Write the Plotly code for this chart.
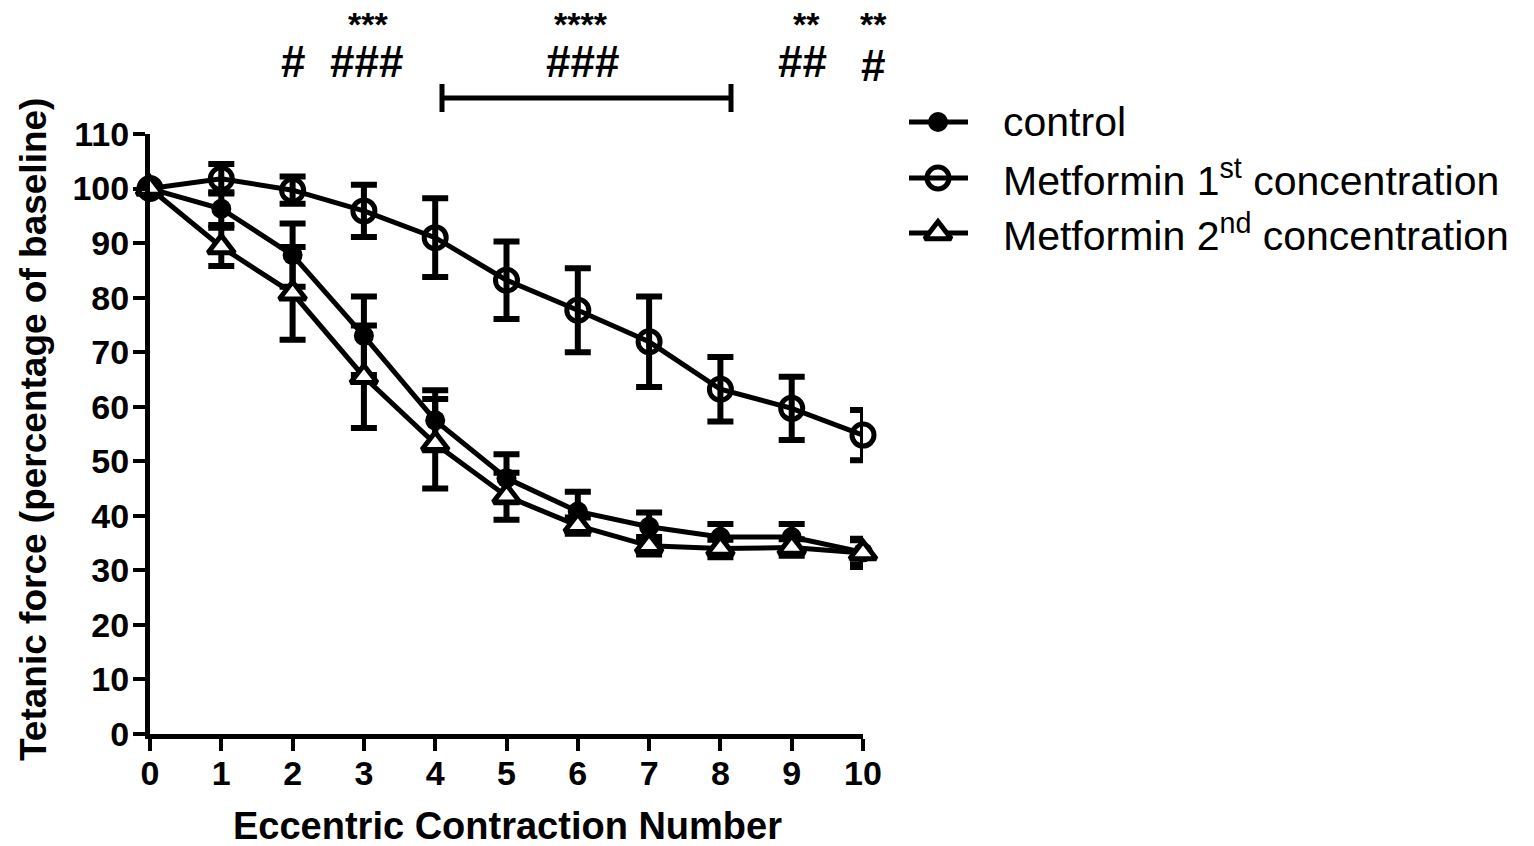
import plotly.graph_objects as go

# Eccentric contraction number
contraction = [0, 1, 2, 3, 4, 5, 6, 7, 8, 9, 10]

# Tetanic force, % of baseline (mean and SEM)
control = [100, 96.3, 87.8, 73.0, 57.5, 46.9, 40.8, 38.0, 36.1, 36.1, 33.3]
control_err = [0, 3.0, 5.8, 7.2, 5.5, 4.4, 3.6, 2.6, 2.4, 2.4, 2.2]

met_1st = [100, 101.8, 99.7, 95.9, 91.0, 83.2, 77.7, 71.9, 63.2, 59.7, 54.8]
met_1st_err = [0, 2.7, 2.5, 4.8, 7.2, 7.1, 7.7, 8.3, 5.9, 5.8, 4.6]

met_2nd = [100, 89.3, 80.8, 65.5, 53.2, 43.6, 38.2, 34.5, 34.0, 34.2, 33.2]
met_2nd_err = [0, 3.5, 8.5, 9.4, 8.2, 4.3, 1.5, 1.6, 1.6, 1.5, 2.6]

x_ticks = list(range(0, 11))
y_ticks = list(range(0, 111, 10))

series_names = ["control", "Metformin 1<sup>st</sup> concentration",
                "Metformin 2<sup>nd</sup> concentration"]

FONT = "Liberation Sans, Arial, sans-serif"
W, H = 1534, 846

# plot area in pixels
PX0, PX1 = 150, 863
PY_TOP, PY_BOT = 134, 734

marker_styles = [
    dict(symbol="circle", size=20, color="black", line=dict(width=0)),
    dict(symbol="circle-open", size=22, color="black", line=dict(width=5, color="black")),
    dict(symbol="triangle-up", size=23, color="white", line=dict(width=5, color="black")),
]

fig = go.Figure()

for y, err, mk in zip([control, met_1st, met_2nd],
                      [control_err, met_1st_err, met_2nd_err],
                      marker_styles):
    fig.add_trace(go.Scatter(
        x=contraction, y=y, mode="lines+markers",
        line=dict(color="black", width=5),
        marker=mk,
        error_y=dict(type="data", array=err, visible=True,
                     color="black", thickness=6, width=13),
        cliponaxis=False, showlegend=False, xaxis="x", yaxis="y",
    ))

# legend keys drawn in a full-figure pixel-coordinate subplot
legend_rows = [122, 178, 233]
for row, mk in zip(legend_rows, marker_styles):
    fig.add_trace(go.Scatter(
        x=[909, 968], y=[row, row], mode="lines",
        line=dict(color="black", width=5),
        showlegend=False, xaxis="x2", yaxis="y2", hoverinfo="skip",
        cliponaxis=False,
    ))
    fig.add_trace(go.Scatter(
        x=[938], y=[row], mode="markers", marker=mk,
        showlegend=False, xaxis="x2", yaxis="y2", hoverinfo="skip",
        cliponaxis=False,
    ))

annotations = []
for row, name in zip(legend_rows, series_names):
    annotations.append(dict(
        x=1001, y=row, xref="x2", yref="y2", text=name, showarrow=False,
        xanchor="left", yanchor="middle",
        font=dict(family=FONT, size=41, color="black"),
    ))

# significance markers
sig_marks = [
    ("***", 368, 24, 34), ("****", 581, 24, 34), ("**", 806, 24, 34), ("**", 873, 24, 34),
    ("#", 293, 61, 44), ("###", 366, 61, 44), ("###", 582, 61, 44),
    ("##", 802, 61, 44), ("#", 873, 65, 44),
]
for txt, px, py, sz in sig_marks:
    annotations.append(dict(
        x=px, y=py, xref="x2", yref="y2", text=txt, showarrow=False,
        xanchor="center", yanchor="middle",
        font=dict(family=FONT, size=sz, color="black", weight="bold"),
    ))

# axis titles
annotations.append(dict(
    x=507, y=826, xref="x2", yref="y2", text="Eccentric Contraction Number",
    showarrow=False, xanchor="center", yanchor="middle",
    font=dict(family=FONT, size=38, color="black", weight="bold"),
))
annotations.append(dict(
    x=33, y=430, xref="x2", yref="y2", text="Tetanic force (percentage of baseline)",
    showarrow=False, xanchor="center", yanchor="middle", textangle=-90,
    font=dict(family=FONT, size=37, color="black", weight="bold"),
))

shapes = [
    dict(type="line", xref="x2", yref="y2", x0=442, x1=731, y0=98, y1=98,
         line=dict(color="black", width=5)),
    dict(type="line", xref="x2", yref="y2", x0=442, x1=442, y0=84, y1=112,
         line=dict(color="black", width=5)),
    dict(type="line", xref="x2", yref="y2", x0=731, x1=731, y0=84, y1=112,
         line=dict(color="black", width=5)),
]

tick_font = dict(family=FONT, size=34, color="black", weight="bold")

fig.update_layout(
    width=W, height=H,
    margin=dict(l=0, r=0, t=0, b=0, autoexpand=False),
    paper_bgcolor="white", plot_bgcolor="rgba(0,0,0,0)",
    showlegend=False,
    xaxis=dict(
        domain=[PX0 / W, PX1 / W], range=[0, 10], anchor="y",
        tickvals=x_ticks, ticktext=[str(v) for v in x_ticks],
        showline=True, linecolor="black", linewidth=5,
        ticks="outside", ticklen=12, tickwidth=4, tickcolor="black",
        showgrid=False, zeroline=False, tickfont=tick_font, automargin=False,
        ticklabelstandoff=-7,
    ),
    yaxis=dict(
        domain=[(H - PY_BOT) / H, (H - PY_TOP) / H], range=[0, 110], anchor="x",
        tickvals=y_ticks, ticktext=[str(v) for v in y_ticks],
        showline=True, linecolor="black", linewidth=5,
        ticks="outside", ticklen=12, tickwidth=4, tickcolor="black",
        showgrid=False, zeroline=False, tickfont=tick_font, automargin=False,
        ticklabelstandoff=-3,
    ),
    xaxis2=dict(domain=[0, 1], range=[0, W], anchor="y2",
                visible=False, fixedrange=True, automargin=False),
    yaxis2=dict(domain=[0, 1], range=[H, 0], anchor="x2",
                visible=False, fixedrange=True, automargin=False),
    annotations=annotations,
    shapes=shapes,
)

fig.write_html("out.html")
